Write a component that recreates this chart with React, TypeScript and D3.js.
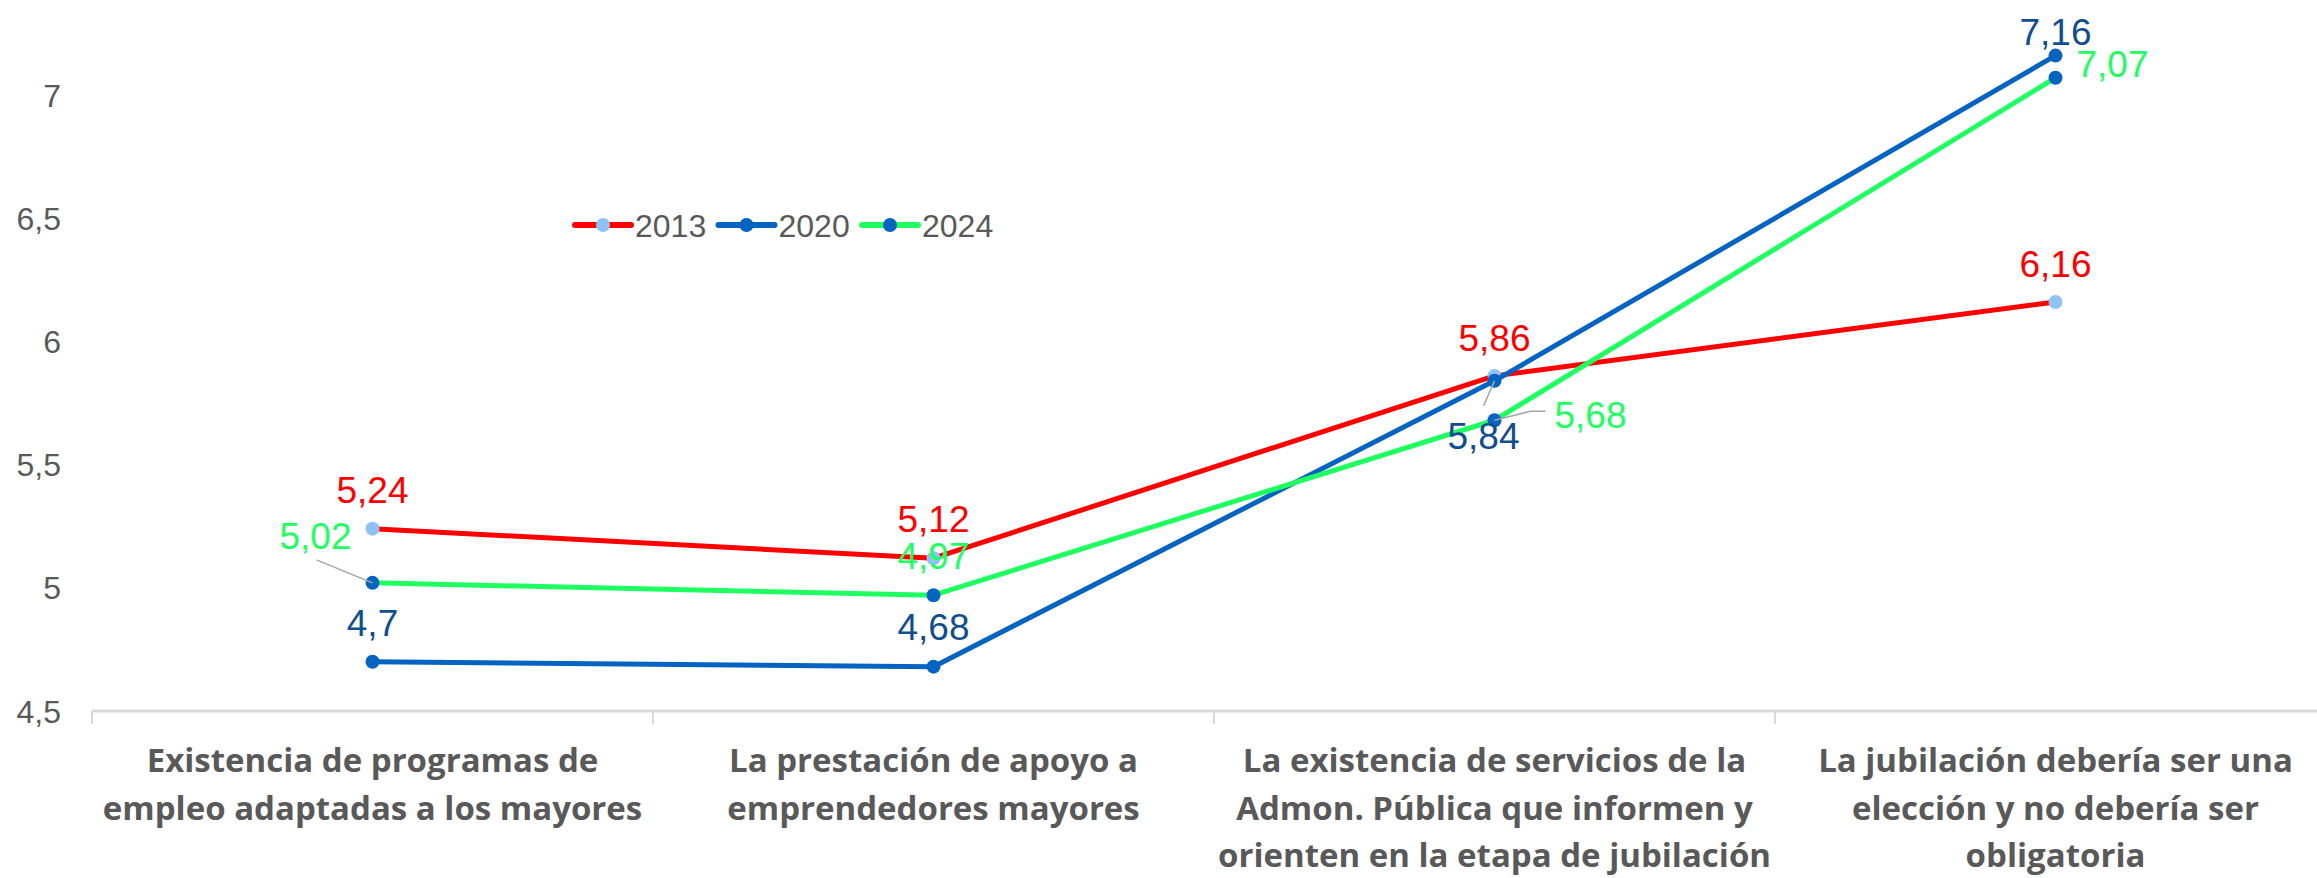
import React, { useEffect, useRef } from "react";
import * as d3 from "d3";

// category labels, already broken into lines like in the original
const categories: string[][] = [
  ["Existencia de programas de", "empleo adaptadas a los mayores"],
  ["La prestación de apoyo a", "emprendedores mayores"],
  [
    "La existencia de servicios de la",
    "Admon. Pública que informen y",
    "orienten en la etapa de jubilación",
  ],
  ["La jubilación debería ser una", "elección y no debería ser", "obligatoria"],
];

const years = ["2013", "2020", "2024"];
const values2013 = [5.24, 5.12, 5.86, 6.16];
const values2020 = [4.7, 4.68, 5.84, 7.16];
const values2024 = [5.02, 4.97, 5.68, 7.07];
const yTicks = [4.5, 5, 5.5, 6, 6.5, 7];

interface SeriesStyle {
  line: string;
  marker: string;
  label: string;
}

const styles: SeriesStyle[] = [
  { line: "#FF0000", marker: "#8EC2F5", label: "#FF0000" },
  { line: "#0563C1", marker: "#0563C1", label: "#124E8F" },
  { line: "#20FF62", marker: "#0563C1", label: "#20FF62" },
];

// label placement per series / point: dx, dy from the marker, anchor, optional leader line
type Placement = { dx: number; dy: number; anchor: string; leader?: [number, number][] };
const placements: Placement[][] = [
  [
    { dx: 0, dy: -26, anchor: "middle" },
    { dx: 0, dy: -26, anchor: "middle" },
    { dx: 0, dy: -25, anchor: "middle" },
    { dx: 0, dy: -25, anchor: "middle" },
  ],
  [
    { dx: 0, dy: -26, anchor: "middle" },
    { dx: 0, dy: -27, anchor: "middle" },
    { dx: -11, dy: 68, anchor: "middle", leader: [[-11, 25], [0, 0]] },
    { dx: 0, dy: -11, anchor: "middle" },
  ],
  [
    { dx: -21, dy: -34, anchor: "end", leader: [[-56, -23], [0, 0]] },
    { dx: 0, dy: -26, anchor: "middle" },
    { dx: 60, dy: 8, anchor: "start", leader: [[51, -9], [36, -9], [0, 0]] },
    { dx: 21, dy: -1, anchor: "start" },
  ],
];

const W = 2317;
const H = 878;

const App: React.FC = () => {
  const svgRef = useRef<SVGSVGElement>(null);

  useEffect(() => {
    if (!svgRef.current) return;
    const svg = d3.select(svgRef.current);
    svg.selectAll("*").remove();

    const seriesValues = [values2013, values2020, values2024];
    const plotLeft = 92;
    const plotRight = 2336;
    const axisY = 711;

    const x = d3
      .scaleBand<number>()
      .domain(d3.range(categories.length))
      .range([plotLeft, plotRight]);
    const cx = (i: number) => (x(i) as number) + x.bandwidth() / 2;

    const y = d3.scaleLinear().domain([4.5, 7]).range([axisY, 95]);

    // y tick labels (no axis line, no gridlines)
    svg
      .append("g")
      .selectAll("text")
      .data(yTicks)
      .enter()
      .append("text")
      .attr("x", 61)
      .attr("y", (d) => y(d))
      .attr("dy", "0.36em")
      .attr("text-anchor", "end")
      .style("font-family", "'Liberation Sans', Arial, sans-serif")
      .style("font-size", "32px")
      .style("fill", "#595959")
      .text((d) => String(d).replace(".", ","));

    // category axis
    const xAxis = svg.append("g");
    xAxis
      .append("line")
      .attr("x1", plotLeft)
      .attr("x2", W)
      .attr("y1", axisY)
      .attr("y2", axisY)
      .attr("stroke", "#D9D9D9")
      .attr("stroke-width", 3);
    xAxis
      .selectAll(".tick")
      .data(d3.range(categories.length))
      .enter()
      .append("line")
      .attr("x1", (d) => x(d) as number)
      .attr("x2", (d) => x(d) as number)
      .attr("y1", axisY)
      .attr("y2", axisY + 13)
      .attr("stroke", "#D9D9D9")
      .attr("stroke-width", 2);

    const catText = xAxis
      .selectAll(".cat")
      .data(categories)
      .enter()
      .append("text")
      .attr("text-anchor", "middle")
      .attr("transform", (_d, i) => `translate(${cx(i)},0)`)
      .style("font-family", "'Open Sans', sans-serif")
      .style("font-weight", "bold")
      .style("font-size", "33px")
      .style("fill", "#595959");
    catText
      .selectAll("tspan")
      .data((d) => d)
      .enter()
      .append("tspan")
      .attr("x", 0)
      .attr("y", (_d, j) => 772 + j * 47.5)
      .text((d) => d);

    const line = d3
      .line<number>()
      .x((_d, i) => cx(i))
      .y((d) => y(d));

    // lines + markers per series
    seriesValues.forEach((vals, s) => {
      svg
        .append("path")
        .datum(vals)
        .attr("fill", "none")
        .attr("stroke", styles[s].line)
        .attr("stroke-width", 5)
        .attr("stroke-linejoin", "round")
        .attr("d", line);
      svg
        .append("g")
        .selectAll("circle")
        .data(vals)
        .enter()
        .append("circle")
        .attr("cx", (_d, i) => cx(i))
        .attr("cy", (d) => y(d))
        .attr("r", 7)
        .attr("fill", styles[s].marker);
    });

    // data labels with leader lines
    seriesValues.forEach((vals, s) => {
      const g = svg.append("g");
      vals.forEach((v, i) => {
        const px = cx(i);
        const py = y(v);
        const p = placements[s][i];
        if (p.leader) {
          g.append("path")
            .attr(
              "d",
              d3.line()(p.leader.map(([a, b]) => [px + a, py + b]) as [number, number][])
            )
            .attr("fill", "none")
            .attr("stroke", "#A6A6A6")
            .attr("stroke-width", 1.5);
        }
        g.append("text")
          .attr("x", px + p.dx)
          .attr("y", py + p.dy)
          .attr("text-anchor", p.anchor)
          .style("font-family", "'Liberation Sans', Arial, sans-serif")
          .style("font-size", "37px")
          .style("fill", styles[s].label)
          .text(String(v).replace(".", ","));
      });
    });

    // legend
    const legend = svg.append("g").attr("transform", "translate(575,225)");
    years.forEach((yr, s) => {
      const item = legend.append("g").attr("transform", `translate(${s * 143.5},0)`);
      item
        .append("line")
        .attr("x1", 0)
        .attr("x2", 56)
        .attr("y1", 0)
        .attr("y2", 0)
        .attr("stroke", styles[s].line)
        .attr("stroke-width", 6)
        .attr("stroke-linecap", "round");
      item.append("circle").attr("cx", 28).attr("cy", 0).attr("r", 7).attr("fill", styles[s].marker);
      item
        .append("text")
        .attr("x", 60)
        .attr("y", 12)
        .style("font-family", "'Liberation Sans', Arial, sans-serif")
        .style("font-size", "32px")
        .style("fill", "#595959")
        .text(yr);
    });
  }, []);

  return (
    <svg
      ref={svgRef}
      width={W}
      height={H}
      style={{ position: "absolute", left: 0, top: 0, background: "#fff" }}
    />
  );
};

export default App;
